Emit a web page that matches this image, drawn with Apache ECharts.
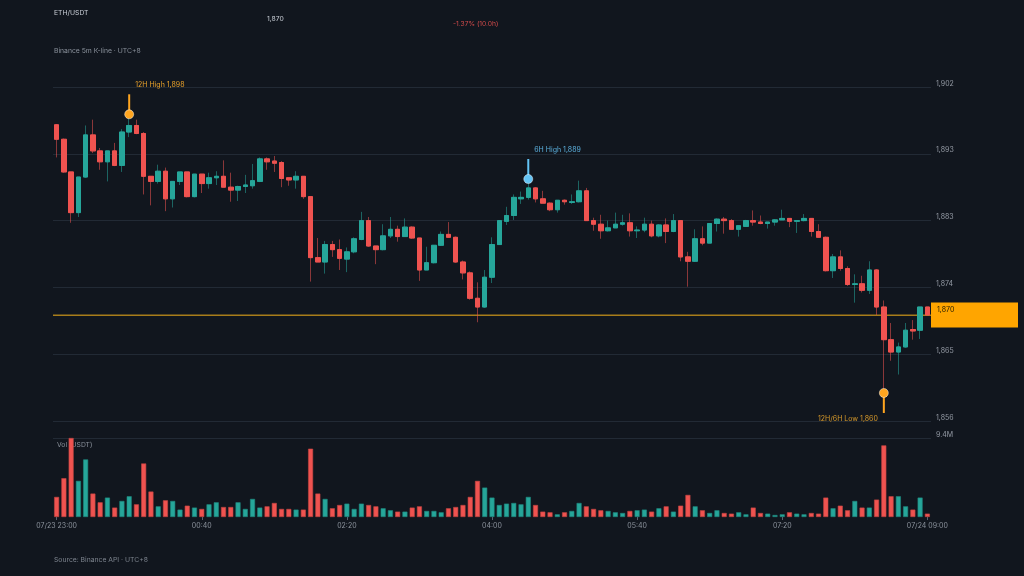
<!DOCTYPE html>
<html><head><meta charset="utf-8">
<script src="https://cdn.jsdelivr.net/npm/echarts@6.0.0/dist/echarts.min.js"></script>
<style>html,body{margin:0;padding:0;background:#11161e;}#c{width:1024px;height:576px;}</style>
</head><body><div id="c"></div>
<script>
// ---- data (ETH/USDT 5m candles, 07/23 23:00 -> 07/24 09:00, UTC+8) ----
const open = [1896.6,1894.6,1890.1,1884.5,1889.4,1895.2,1893.0,1891.5,1893.0,1891.0,1895.6,1896.5,1895.4,1889.5,1888.8,1890.2,1886.4,1888.8,1890.1,1886.7,
1889.8,1888.5,1889.3,1889.5,1888.0,1887.6,1888.1,1888.2,1888.8,1891.9,1891.6,1891.4,1889.3,1889.0,1889.5,1886.7,1878.3,1877.7,1880.1,1879.4,
1878.1,1879.1,1880.8,1883.4,1879.9,1879.4,1881.3,1882.2,1881.2,1882.5,1881.0,1876.6,1877.6,1880.0,1881.5,1881.1,1877.7,1876.2,1872.7,1871.5,
1875.6,1880.1,1883.3,1884.1,1886.4,1886.6,1887.9,1886.4,1885.8,1884.9,1886.2,1885.9,1886.0,1887.5,1883.4,1882.9,1882.0,1882.4,1882.9,1883.1,
1882.0,1882.1,1882.9,1881.3,1882.8,1881.9,1883.4,1878.4,1877.8,1880.9,1880.3,1883.0,1883.6,1883.4,1882.2,1882.6,1883.4,1883.2,1883.0,1883.2,
1883.5,1883.7,1883.3,1883.4,1883.7,1881.9,1881.1,1876.5,1878.4,1876.8,1874.6,1874.7,1873.8,1876.6,1871.5,1867.0,1865.3,1866.0,1868.4,1868.3,
1871.5];
const close = [1894.6,1890.1,1884.5,1889.4,1895.2,1893.0,1891.5,1893.0,1891.0,1895.6,1896.5,1895.4,1889.5,1888.8,1890.2,1886.4,1888.8,1890.1,1886.7,1889.8,
1888.5,1889.3,1889.5,1888.0,1887.6,1888.1,1888.3,1888.9,1891.9,1891.5,1891.3,1889.2,1889.0,1889.5,1886.7,1878.3,1877.7,1880.1,1879.4,1878.2,
1879.1,1880.9,1883.4,1879.9,1879.4,1881.3,1882.2,1881.2,1882.5,1881.0,1876.6,1877.6,1880.0,1881.5,1881.1,1877.7,1876.2,1872.7,1871.5,1875.6,
1880.1,1883.4,1884.1,1886.6,1886.6,1887.9,1886.4,1885.8,1884.9,1886.2,1886.0,1886.0,1887.5,1883.4,1882.9,1882.0,1882.4,1882.9,1883.1,1882.0,
1882.1,1882.9,1881.3,1882.8,1881.9,1883.4,1878.4,1877.8,1880.9,1880.3,1883.0,1883.6,1883.4,1882.2,1882.7,1883.4,1883.2,1883.0,1883.2,1883.5,
1883.7,1883.3,1883.4,1883.7,1881.9,1881.1,1876.5,1878.4,1876.8,1874.6,1874.7,1873.8,1876.6,1871.5,1867.0,1865.3,1866.0,1868.3,1868.2,1871.5,
1870.4];
const low = [1892.1,1890.0,1883.1,1883.9,1889.3,1892.7,1890.4,1888.8,1890.9,1890.1,1894.9,1895.3,1887.0,1885.5,1888.5,1884.7,1885.2,1888.3,1886.6,1886.6,
1887.2,1887.8,1888.3,1888.0,1886.0,1886.1,1887.2,1887.8,1888.7,1890.4,1890.1,1888.0,1888.2,1887.8,1886.4,1875.0,1877.7,1876.1,1878.4,1876.6,
1876.3,1878.9,1880.7,1879.8,1877.4,1879.3,1881.0,1880.5,1881.2,1880.9,1875.1,1876.6,1877.5,1879.9,1881.1,1877.6,1875.3,1872.5,1869.4,1871.4,
1874.8,1880.1,1882.8,1883.5,1885.7,1886.3,1885.9,1885.8,1884.7,1884.5,1885.6,1885.7,1885.9,1883.4,1882.0,1880.9,1881.9,1882.4,1882.7,1881.2,
1881.0,1881.8,1881.1,1881.1,1880.3,1881.8,1877.8,1874.3,1877.7,1880.0,1880.3,1881.9,1881.6,1882.2,1881.2,1882.6,1882.7,1882.9,1882.3,1882.7,
1883.5,1882.5,1881.7,1883.3,1881.2,1881.1,1876.4,1875.5,1876.5,1874.4,1872.1,1873.5,1873.3,1870.4,1859.7,1864.1,1862.2,1865.9,1867.0,1867.1,
1870.4];
const high = [1896.7,1894.7,1890.1,1889.4,1896.5,1897.3,1893.4,1893.0,1894.1,1896.0,1898.0,1897.3,1895.6,1889.5,1891.1,1890.7,1888.8,1890.1,1890.1,1889.8,
1889.8,1890.0,1890.2,1891.7,1890.0,1888.2,1889.7,1891.2,1892.1,1892.1,1892.3,1891.6,1889.3,1890.2,1889.5,1886.7,1881.0,1880.6,1880.6,1880.8,
1879.7,1881.1,1884.6,1883.9,1879.9,1882.9,1883.9,1882.7,1883.7,1882.6,1881.0,1879.8,1880.0,1881.9,1883.2,1881.2,1877.9,1876.4,1874.9,1876.6,
1881.1,1883.4,1885.3,1887.0,1887.4,1889.1,1888.0,1887.5,1885.9,1886.2,1886.3,1887.0,1888.9,1887.9,1883.8,1884.2,1883.4,1884.5,1884.2,1884.4,
1882.6,1883.8,1883.4,1882.9,1883.7,1884.3,1883.4,1879.1,1882.2,1882.6,1883.0,1883.7,1883.9,1883.6,1882.7,1883.5,1884.8,1884.1,1883.2,1883.6,
1884.9,1883.7,1883.4,1884.3,1883.7,1882.9,1881.2,1878.8,1879.3,1877.1,1876.0,1875.8,1877.8,1876.7,1872.4,1869.3,1866.6,1869.3,1869.7,1871.5,
1871.5];
const volumeM = [2.39,4.62,9.4,4.30,6.85,2.79,1.75,2.31,1.12,1.91,2.47,1.51,6.37,3.03,1.27,1.99,1.91,0.88,1.35,1.12,
0.96,1.51,1.75,1.19,1.19,1.75,0.96,2.15,1.12,1.27,1.67,0.96,0.96,0.88,0.88,8.13,2.79,2.15,1.04,1.43,
1.59,0.96,1.59,1.43,1.27,1.04,0.80,0.64,0.64,1.12,1.27,0.72,0.72,0.56,1.04,1.19,1.43,2.39,4.30,3.50,
2.31,1.43,1.59,1.67,1.51,2.39,1.43,0.64,0.56,0.32,0.56,0.72,1.67,1.27,0.96,0.80,0.72,0.56,0.48,0.72,
0.80,0.88,0.64,1.04,1.27,0.64,1.35,2.63,1.27,0.80,0.48,0.80,0.48,0.40,0.56,0.32,1.12,0.48,0.40,0.24,
0.32,0.56,0.40,0.32,0.48,0.40,2.31,1.04,1.35,0.80,1.91,1.12,1.12,2.07,8.52,2.47,2.47,1.27,0.88,2.31,
0.40];
// price axis ticks
const priceTicks = [1855.8, 1865.0, 1874.2, 1883.4, 1892.6, 1901.8];
const volMaxM = 9.4;
// annotations
const annIndex = [10, 65, 114];
const annValue = [1898.04, 1889.13, 1859.66];
const annDir = [1, 1, -1];
const annText = ['12H High 1,898', '6H High 1,889', '12H/6H Low 1,860'];
const annDot = ['#ffa51f', '#63c4f5', '#ffa51f'];
const annTextColor = ['#e9a12a', '#5cb0de', '#d89a2a'];

// categories: 5-minute steps
const cats = [];
for (let i = 0; i < open.length; i++) {
  const m = 23 * 60 + 5 * i;
  const day = m >= 1440 ? '07/24' : '07/23';
  const mm = m % 1440;
  const hh = String(Math.floor(mm / 60)).padStart(2, '0');
  const mi = String(mm % 60).padStart(2, '0');
  cats.push(day + ' ' + hh + ':' + mi);
}

const UP = '#26a69a', DOWN = '#ef5350';
const wickData = open.map((o, i) => [o, close[i], low[i], high[i]]);
const bodyData = open.map((o, i) => [o, close[i], Math.min(o, close[i]), Math.max(o, close[i])]);
const volData = volumeM.map((v, i) => ({
  value: v,
  itemStyle: close[i] >= open[i]
    ? { color: UP, borderColor: '#1f8a80' }
    : { color: DOWN, borderColor: '#c44441' }
}));
const lastIndex = close.length - 1;
const lastClose = close[lastIndex];
const fmt = v => Math.round(v).toLocaleString('en-US');
const FONT = 'Inter';
const GRID = '#222a35';
const PRICE_LINE = '#a87d1a';

const chart = echarts.init(document.getElementById('c'), null, { renderer: 'canvas' });
chart.setOption({
  backgroundColor: '#11161e',
  animation: false,
  textStyle: { fontFamily: FONT },
  grid: [
    { left: 53, right: 93, top: 87, height: 334 },
    { left: 53, right: 93, top: 438, height: 79 }
  ],
  graphic: [
    { type: 'text', x: 54, y: 13, style: { text: 'ETH/USDT', fill: '#c9ced6', fontSize: 6.8, fontFamily: FONT, verticalAlign: 'middle' } },
    { type: 'text', x: 267, y: 19, style: { text: fmt(lastClose), fill: '#c9ced6', fontSize: 6.8, fontFamily: FONT, verticalAlign: 'middle' } },
    { type: 'text', x: 453, y: 24, style: { text: '-1.37% (10.0h)', fill: '#d24b4b', fontSize: 6.7, fontFamily: FONT, verticalAlign: 'middle' } },
    { type: 'text', x: 54, y: 51, style: { text: 'Binance 5m K-line · UTC+8', fill: '#8a919b', fontSize: 6.8, fontFamily: FONT, verticalAlign: 'middle' } },
    { type: 'text', x: 57, y: 445, z: 0, style: { text: 'Vol (USDT)', fill: '#8a919b', fontSize: 6.8, fontFamily: FONT, verticalAlign: 'middle' } },
    { type: 'text', x: 54, y: 560, style: { text: 'Source: Binance API · UTC+8', fill: '#7d848e', fontSize: 6.8, fontFamily: FONT, verticalAlign: 'middle' } }
  ],
  xAxis: [
    { type: 'category', gridIndex: 0, data: cats, boundaryGap: true,
      axisLine: { show: false }, axisTick: { show: false }, axisLabel: { show: false }, splitLine: { show: false },
      axisPointer: { show: false } },
    { type: 'category', gridIndex: 1, data: cats, boundaryGap: true,
      axisLine: { show: false },
      axisTick: { show: true, interval: 19, alignWithLabel: true, length: 3, lineStyle: { color: '#5a6270' } },
      axisLabel: { interval: 19, color: '#8c939d', fontSize: 7, margin: 5,
        formatter: (v, idx) => (idx === 0 || idx === cats.length - 1) ? v : v.slice(6) },
      splitLine: { show: false } }
  ],
  yAxis: [
    { type: 'value', gridIndex: 0, position: 'right', scale: true,
      min: priceTicks[0], max: priceTicks[priceTicks.length - 1], interval: priceTicks[1] - priceTicks[0],
      axisLine: { show: false }, axisTick: { show: false },
      splitLine: { lineStyle: { color: GRID, width: 1 } },
      axisLabel: { color: '#959ba5', fontSize: 7, margin: 5, verticalAlign: 'bottom', formatter: fmt } },
    { type: 'value', gridIndex: 1, position: 'right', min: 0, max: volMaxM, interval: volMaxM,
      axisLine: { show: false }, axisTick: { show: false },
      splitLine: { lineStyle: { color: ['rgba(0,0,0,0)', GRID], width: 1 } },
      axisLabel: { color: '#959ba5', fontSize: 7, margin: 5, verticalAlign: 'bottom',
        formatter: v => v > 0 ? v + 'M' : '' } }
  ],
  series: [
    { type: 'custom', name: 'lastPrice', xAxisIndex: 0, yAxisIndex: 0, z: 1, silent: true, clip: false,
      data: [[lastIndex, lastClose]],
      renderItem: (params, api) => {
        const cs = params.coordSys;
        const y = Math.round(api.coord([api.value(0), api.value(1)])[1]);
        const xr = cs.x + cs.width;
        return { type: 'group', children: [
          { type: 'rect', shape: { x: cs.x, y: y - 0.5, width: cs.width, height: 1.5 },
            style: { fill: PRICE_LINE, stroke: null } },
          { type: 'rect', shape: { x: xr, y: y - 12.5, width: 87, height: 25 }, style: { fill: '#ffa500', stroke: null } },
          { type: 'text', x: xr + 6, y: y - 5,
            style: { text: fmt(api.value(1)), fill: '#2a2000', fontSize: 7, fontFamily: FONT, verticalAlign: 'middle' } }
        ] };
      } },
    { type: 'candlestick', name: 'wick', xAxisIndex: 0, yAxisIndex: 0, data: wickData, barWidth: 5, silent: true,
      itemStyle: { color: 'rgba(0,0,0,0)', color0: 'rgba(0,0,0,0)', borderColor: 'rgba(38,166,154,0.55)', borderColor0: 'rgba(239,83,80,0.55)', borderWidth: 1 } },
    { type: 'candlestick', name: 'body', xAxisIndex: 0, yAxisIndex: 0, data: bodyData, barWidth: 5, silent: true,
      itemStyle: { color: UP, color0: DOWN, borderColor: UP, borderColor0: DOWN, borderWidth: 1 } },
    { type: 'bar', name: 'vol', xAxisIndex: 1, yAxisIndex: 1, data: volData, barWidth: 5,
      itemStyle: { borderWidth: 0.6 } },
    { type: 'custom', name: 'ann', xAxisIndex: 0, yAxisIndex: 0, z: 10, silent: true, clip: false,
      data: annIndex.map((x, i) => [x, annValue[i], annDir[i]]),
      renderItem: (params, api) => {
        const i = params.dataIndex;
        const p = api.coord([api.value(0), api.value(1)]);
        const dir = api.value(2);
        return { type: 'group', children: [
          { type: 'line', shape: { x1: p[0], y1: p[1], x2: p[0], y2: p[1] - dir * 20 },
            style: { stroke: annDot[i], lineWidth: 2 } },
          { type: 'circle', shape: { cx: p[0], cy: p[1], r: 4.5 },
            style: { fill: annDot[i], stroke: 'rgba(255,255,255,0.45)', lineWidth: 1 } },
          { type: 'text', x: p[0] + (dir > 0 ? 6 : -6), y: p[1] - dir * (dir > 0 ? 29 : 26),
            style: { text: annText[i], fill: annTextColor[i], fontSize: 7, fontFamily: FONT,
              align: dir > 0 ? 'left' : 'right', verticalAlign: 'middle' } }
        ] };
      } }
  ]
});
</script></body></html>
